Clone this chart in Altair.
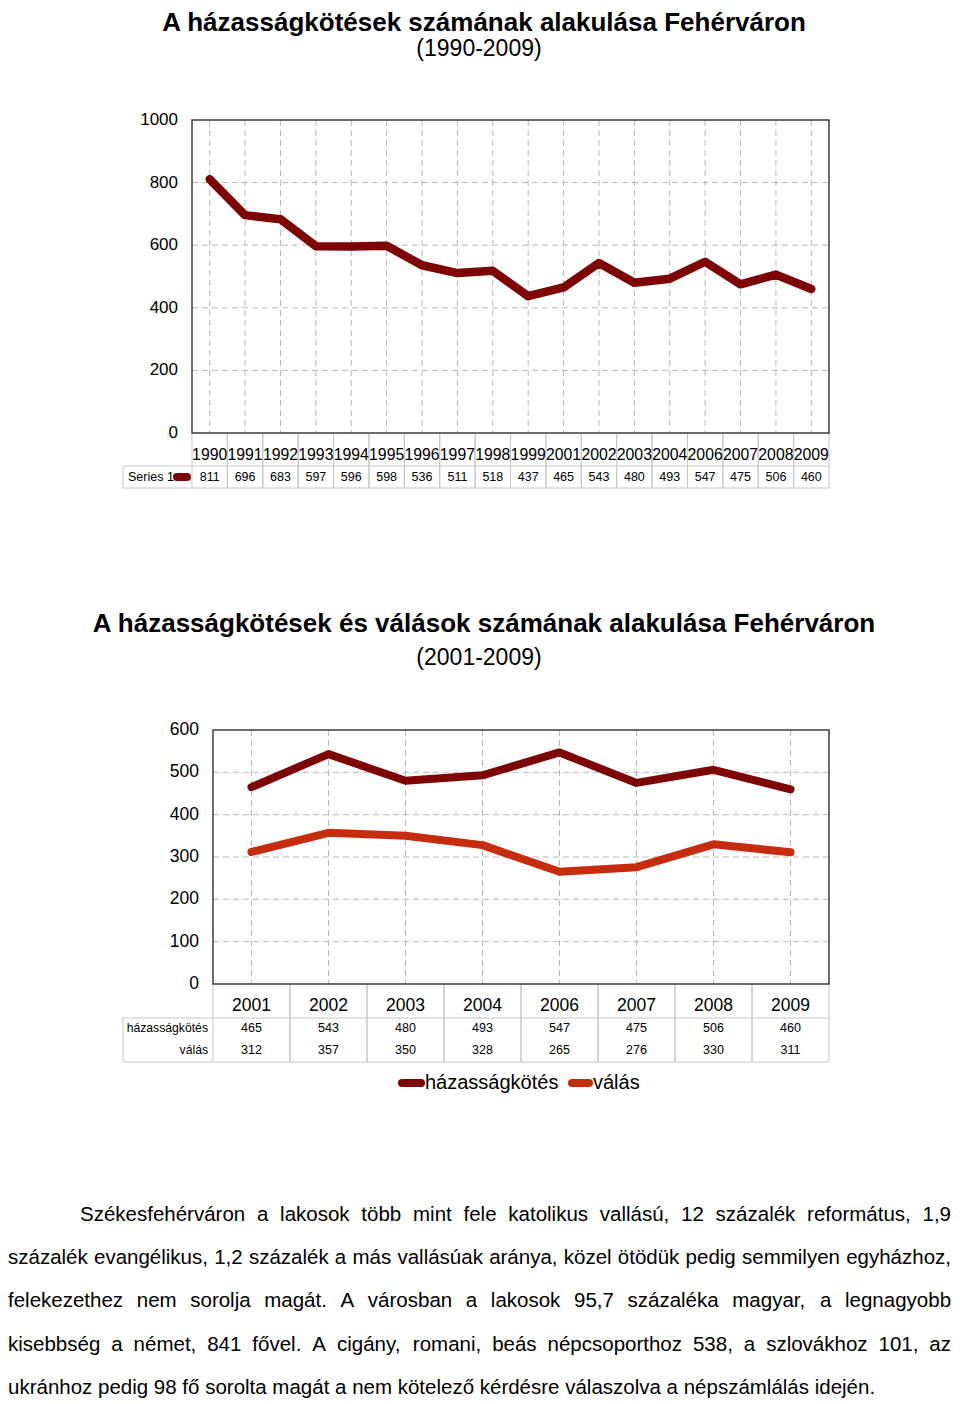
import unicodedata
import altair as alt
import pandas as pd

# ---------------- data ----------------
title1 = "A házasságkötések számának alakulása Fehérváron"
subtitle1 = "(1990-2009)"
years1 = ["1990", "1991", "1992", "1993", "1994", "1995", "1996", "1997", "1998",
          "1999", "2001", "2002", "2003", "2004", "2006", "2007", "2008", "2009"]
values1 = [811, 696, 683, 597, 596, 598, 536, 511, 518, 437, 465, 543, 480, 493, 547, 475, 506, 460]
series1_label = "Series 1"
yticks1 = [0, 200, 400, 600, 800, 1000]

title2 = "A házasságkötések és válások számának alakulása Fehérváron"
subtitle2 = "(2001-2009)"
years2 = ["2001", "2002", "2003", "2004", "2006", "2007", "2008", "2009"]
marriages2 = [465, 543, 480, 493, 547, 475, 506, 460]
divorces2 = [312, 357, 350, 328, 265, 276, 330, 311]
series2 = ["házasságkötés", "válás"]
yticks2 = [0, 100, 200, 300, 400, 500, 600]

paragraph_lines = [
    "Székesfehérváron a lakosok több mint fele katolikus vallású, 12 százalék református, 1,9",
    "százalék evangélikus, 1,2 százalék a más vallásúak aránya, közel ötödük pedig semmilyen egyházhoz,",
    "felekezethez nem sorolja magát. A városban a lakosok 95,7 százaléka magyar, a legnagyobb",
    "kisebbség a német, 841 fővel. A cigány, romani, beás népcsoporthoz 538, a szlovákhoz 101, az",
    "ukránhoz pedig 98 fő sorolta magát a nem kötelező kérdésre válaszolva a népszámlálás idején.",
]

# ---------------- style ----------------
FONT = "'Liberation Sans', Arial, sans-serif"
DARK = "#7d0505"
RED = "#c72c0e"
GRID = "#b8b8b8"
TABLE = "#c6c6c6"
FRAME = "#3c3c3c"
DASH = [6, 4]

# Arial / Liberation Sans advance widths (1/1000 em)
W = {" ": 278, ",": 278, ".": 278, "-": 333, "(": 333, ")": 333,
     "A": 667, "S": 667, "F": 611,
     "a": 556, "b": 556, "c": 500, "d": 556, "e": 556, "f": 278, "g": 556, "h": 556,
     "i": 222, "j": 222, "k": 500, "l": 222, "m": 833, "n": 556, "o": 556, "p": 556,
     "q": 556, "r": 333, "s": 500, "t": 278, "u": 556, "v": 500, "w": 722, "x": 500,
     "y": 500, "z": 500, "í": 278}


def text_width(s, fs):
    tot = 0
    for ch in s:
        if ch in W:
            tot += W[ch]
        else:
            base = unicodedata.normalize("NFD", ch)[0]
            tot += W.get(base, 556)
    return tot / 1000.0 * fs


def one(**kw):
    return alt.Data(values=[kw if kw else {"k": 0}])


def text_chart(txt, x, y, size, bold=False, align="center"):
    return alt.Chart(one(t=txt)).mark_text(
        font=FONT, fontSize=size, fontWeight="bold" if bold else "normal",
        align=align, baseline="middle", color="#000"
    ).encode(text="t:N", x=alt.value(x), y=alt.value(y))


def hrule(x1, x2, y, color, width=1):
    return alt.Chart(one()).mark_rule(color=color, strokeWidth=width).encode(
        x=alt.value(x1), x2=alt.value(x2), y=alt.value(y))


def vrule(x, y1, y2, color, width=1):
    return alt.Chart(one()).mark_rule(color=color, strokeWidth=width).encode(
        x=alt.value(x), y=alt.value(y1), y2=alt.value(y2))


# ---------------- block 1 ----------------
L1, R1, T1, B1 = 184, 821, 112, 425
step1 = (R1 - L1) / len(years1)
df1 = pd.DataFrame({"year": years1, "value": values1})
xs1 = alt.Scale(type="point", domain=years1, range=[L1, R1], padding=0.5)
ys1 = alt.Scale(domain=[0, 1000], range=[B1, T1], nice=False, zero=False)
x1 = alt.X("year:N", scale=xs1, axis=None)
base1 = alt.Chart(df1)
ticks1 = alt.Chart(pd.DataFrame({"tick": yticks1}))

block1 = alt.layer(
    text_chart(title1, 476, 15, 26, bold=True),
    text_chart(subtitle1, 471, 41, 23),
    ticks1.transform_filter("datum.tick > 0 && datum.tick < 1000").mark_rule(
        color=GRID, strokeDash=DASH).encode(
        y=alt.Y("tick:Q", scale=ys1, axis=None), x=alt.value(L1), x2=alt.value(R1)),
    base1.mark_rule(color=GRID, strokeDash=DASH).encode(x=x1, y=alt.value(T1), y2=alt.value(B1)),
    ticks1.mark_text(font=FONT, fontSize=17, align="right", baseline="middle").encode(
        y=alt.Y("tick:Q", scale=ys1, axis=None), x=alt.value(170),
        text=alt.Text("tick:Q", format="d")),
    # table grid
    base1.mark_rule(color=TABLE, xOffset=-step1 / 2).encode(x=x1, y=alt.value(B1), y2=alt.value(480)),
    base1.mark_rule(color=TABLE, xOffset=step1 / 2).encode(x=x1, y=alt.value(B1), y2=alt.value(480)),
    hrule(115, R1, 458, TABLE),
    hrule(115, R1, 480, TABLE),
    vrule(115, 458, 480, TABLE),
    base1.mark_text(font=FONT, fontSize=15.8, baseline="middle").encode(
        x=x1, y=alt.value(447), text="year:N"),
    base1.mark_text(font=FONT, fontSize=12.5, baseline="middle").encode(
        x=x1, y=alt.value(469), text=alt.Text("value:Q", format="d")),
    text_chart(series1_label, 120, 469, 12.5, align="left"),
    alt.Chart(one()).mark_rule(color=DARK, strokeWidth=8, strokeCap="round").encode(
        x=alt.value(169), x2=alt.value(179), y=alt.value(469)),
    # frame + line
    alt.Chart(one()).mark_rect(fill="transparent", stroke=FRAME, strokeWidth=1.5).encode(
        x=alt.value(L1), x2=alt.value(R1), y=alt.value(T1), y2=alt.value(B1)),
    base1.mark_line(color=DARK, strokeWidth=8.5, strokeCap="round", strokeJoin="round").encode(
        x=x1, y=alt.Y("value:Q", scale=ys1, axis=None)),
)

# ---------------- block 2 ----------------
L2, R2, T2, B2 = 205, 821, 722, 976
step2 = (R2 - L2) / len(years2)
df2 = pd.DataFrame({
    "year": years2 * 2,
    "series": [series2[0]] * len(years2) + [series2[1]] * len(years2),
    "value": marriages2 + divorces2,
})
dfy2 = pd.DataFrame({"year": years2})
xs2 = alt.Scale(type="point", domain=years2, range=[L2, R2], padding=0.5)
ys2 = alt.Scale(domain=[0, 600], range=[B2, T2], nice=False, zero=False)
x2 = alt.X("year:N", scale=xs2, axis=None)
base2 = alt.Chart(df2)
yb2 = alt.Chart(dfy2)
ticks2 = alt.Chart(pd.DataFrame({"tick": yticks2}))
row_y = [1020, 1042]

layers2 = [
    text_chart(title2, 476, 616, 26, bold=True),
    text_chart(subtitle2, 471, 650, 23),
    ticks2.transform_filter("datum.tick > 0 && datum.tick < 600").mark_rule(
        color=GRID, strokeDash=DASH).encode(
        y=alt.Y("tick:Q", scale=ys2, axis=None), x=alt.value(L2), x2=alt.value(R2)),
    yb2.mark_rule(color=GRID, strokeDash=DASH).encode(x=x2, y=alt.value(T2), y2=alt.value(B2)),
    ticks2.mark_text(font=FONT, fontSize=17.5, align="right", baseline="middle").encode(
        y=alt.Y("tick:Q", scale=ys2, axis=None), x=alt.value(191),
        text=alt.Text("tick:Q", format="d")),
    yb2.mark_rule(color=TABLE, xOffset=-step2 / 2).encode(x=x2, y=alt.value(B2), y2=alt.value(1054)),
    yb2.mark_rule(color=TABLE, xOffset=step2 / 2).encode(x=x2, y=alt.value(B2), y2=alt.value(1054)),
    hrule(115, R2, 1010, TABLE),
    hrule(115, R2, 1054, TABLE),
    vrule(115, 1010, 1054, TABLE),
    yb2.mark_text(font=FONT, fontSize=17.5, baseline="middle").encode(
        x=x2, y=alt.value(998), text="year:N"),
]
for i, s in enumerate(series2):
    layers2.append(text_chart(s, 200, row_y[i], 12.2, align="right"))
    layers2.append(base2.transform_filter(alt.datum.series == s).mark_text(
        font=FONT, fontSize=12.5, baseline="middle").encode(
        x=x2, y=alt.value(row_y[i]), text=alt.Text("value:Q", format="d")))

layers2.append(alt.Chart(one()).mark_rect(fill="transparent", stroke=FRAME, strokeWidth=1.5).encode(
    x=alt.value(L2), x2=alt.value(R2), y=alt.value(T2), y2=alt.value(B2)))
layers2.append(base2.mark_line(strokeWidth=8, strokeCap="round", strokeJoin="round").encode(
    x=x2, y=alt.Y("value:Q", scale=ys2, axis=None),
    color=alt.Color("series:N", scale=alt.Scale(domain=series2, range=[DARK, RED]), legend=None),
    detail="series:N"))

# legend
leg_sym = [(394, 413), (564, 581)]
leg_txt = [417, 585]
for i, s in enumerate(series2):
    layers2.append(alt.Chart(one()).mark_rule(
        color=[DARK, RED][i], strokeWidth=8, strokeCap="round").encode(
        x=alt.value(leg_sym[i][0]), x2=alt.value(leg_sym[i][1]), y=alt.value(1075)))
    layers2.append(text_chart(s, leg_txt[i], 1075, 20, align="left"))

block2 = alt.layer(*layers2)

# ---------------- paragraph (justified, word by word) ----------------
PARA_FS = 20.5
PARA_Y = [1207, 1250, 1293, 1337, 1380]
PARA_START = [72, 0, 0, 0, 0]
PARA_END = [943, 943, 943, 943, None]
rows = []
for li, line in enumerate(paragraph_lines):
    words = line.split(" ")
    widths = [text_width(w, PARA_FS) for w in words]
    start, end = PARA_START[li], PARA_END[li]
    if end is None or len(words) < 2:
        gap = text_width(" ", PARA_FS)
    else:
        gap = (end - start - sum(widths)) / (len(words) - 1)
    x = start
    for w, wd in zip(words, widths):
        rows.append({"word": w, "px": x, "py": PARA_Y[li]})
        x += wd + gap
para = alt.Chart(pd.DataFrame(rows)).mark_text(
    font=FONT, fontSize=PARA_FS, align="left", baseline="middle", color="#000").encode(
    x=alt.X("px:Q", scale=None, axis=None),
    y=alt.Y("py:Q", scale=None, axis=None),
    text="word:N")

chart = alt.layer(block1, block2, para).resolve_scale(
    x="independent", y="independent", color="independent"
).properties(
    width=944, height=1396, padding=0, autosize=alt.AutoSizeParams(type="none")
).configure_view(strokeWidth=0)

chart.save("out.html", embed_options={"renderer": "svg", "actions": False})
